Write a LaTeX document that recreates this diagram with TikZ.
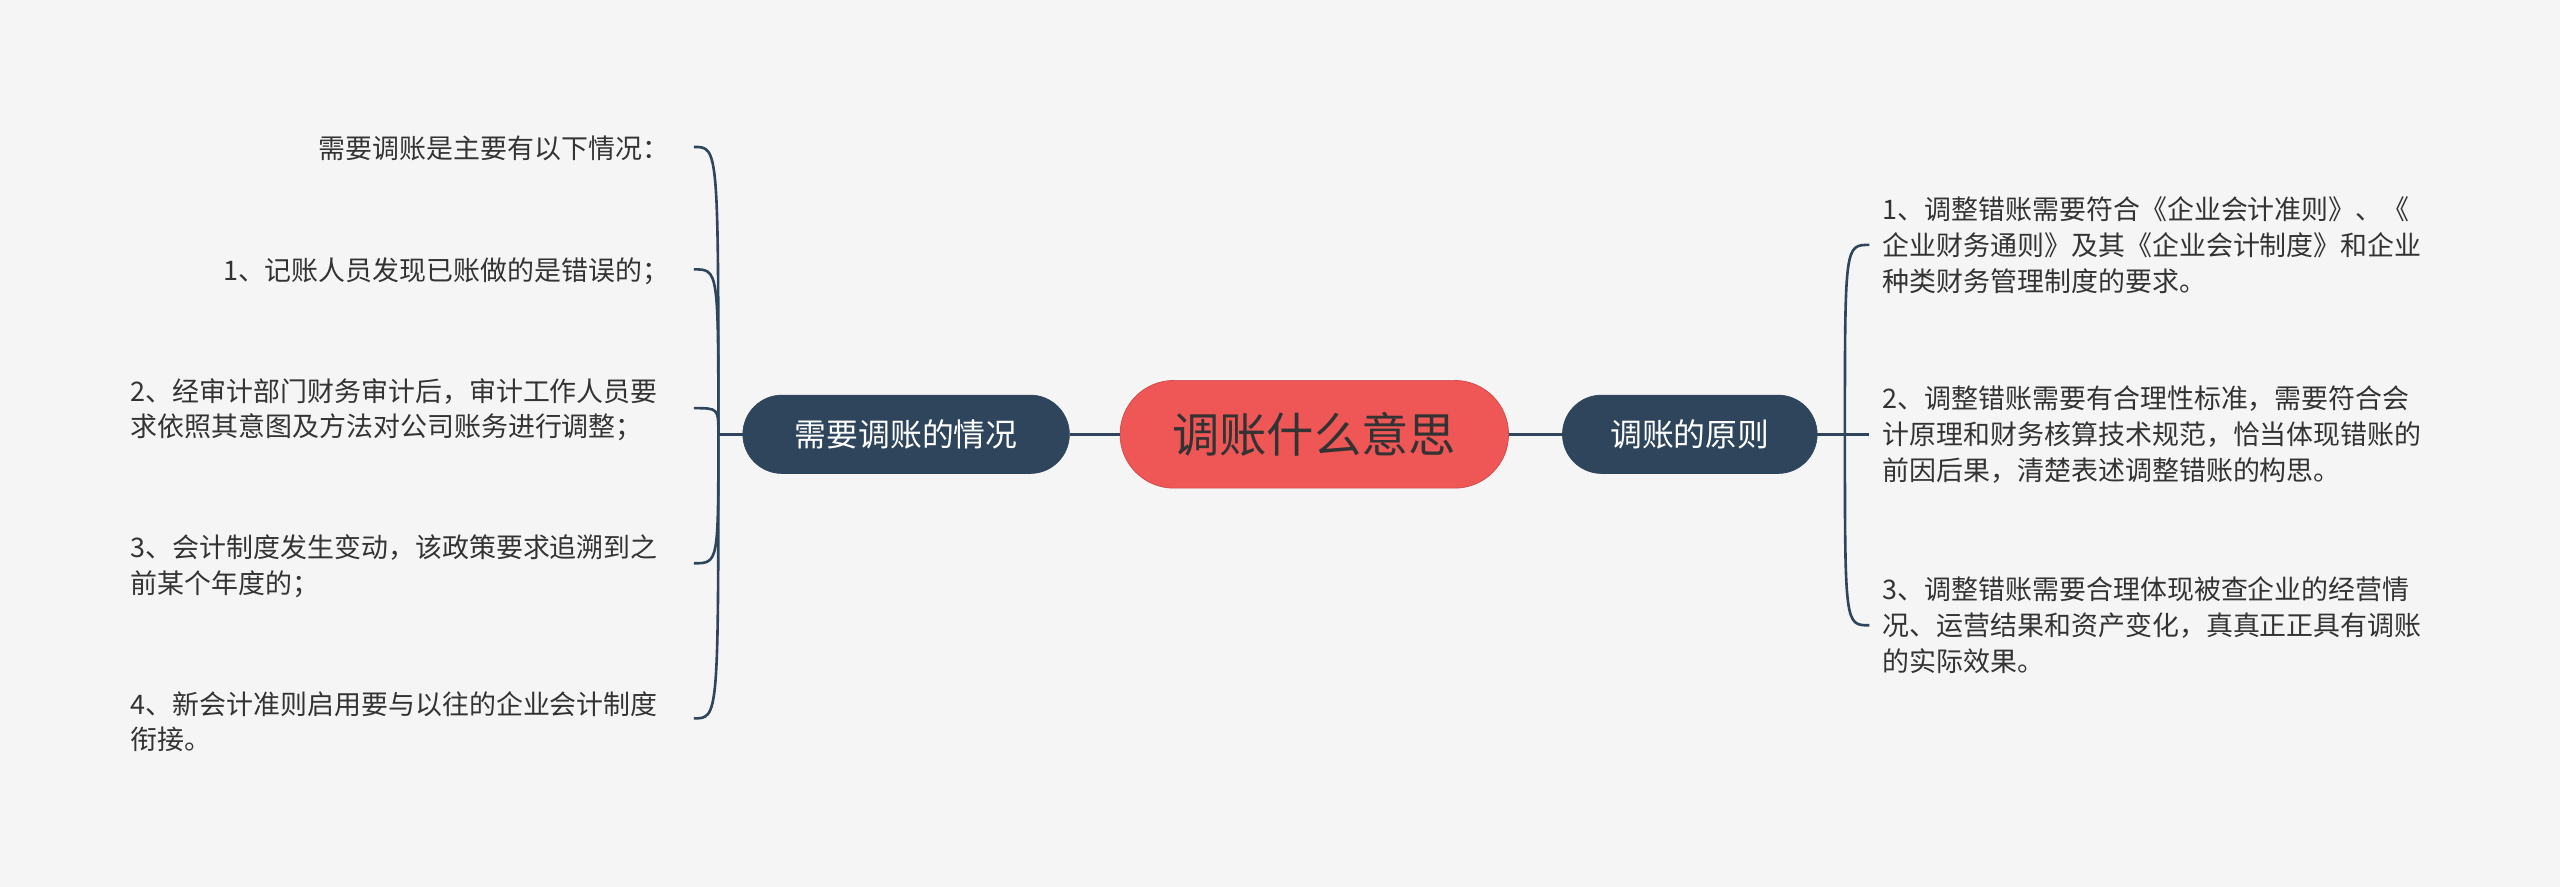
\documentclass[tikz,border=0pt]{standalone}
\usepackage{fontspec}
\setmainfont{Noto Sans CJK SC}
\definecolor{bg}{HTML}{F5F5F5}
\definecolor{navy}{HTML}{2E455C}
\definecolor{red}{HTML}{EF5656}
\definecolor{txt}{HTML}{333333}
\begin{document}
\begin{tikzpicture}[x=1pt,y=-1pt,
  branch/.style={draw=navy,fill=navy,rounded corners=24pt,minimum height=48pt,text=white,font=\fontsize{19.5}{22}\selectfont,inner xsep=12pt},
  item/.style={text=txt,font=\fontsize{16.5}{22}\selectfont,inner sep=0pt},
  conn/.style={draw=navy,line width=1.6pt}]
\fill[bg] (0,0) rectangle (1568,543);
\useasboundingbox (0,0) rectangle (1568,543);
\node[draw=red!85!black,fill=red,rounded corners=33pt,minimum width=238pt,minimum height=66pt,text=txt,font=\fontsize{29}{32}\selectfont] (c) at (805,266) {调账什么意思};
\node[branch,minimum width=200pt] (L) at (555,266) {需要调账的情况};
\node[branch,minimum width=156pt] (R) at (1035,266) {调账的原则};
\draw[conn] (c.west) -- (L.east);
\draw[conn] (c.east) -- (R.west);
\coordinate (lj) at (440,266);
\coordinate (rj) at (1130,266);
\draw[conn] (L.west) -- (lj);
\draw[conn] (R.east) -- (rj);
% left items
\node[item,anchor=east] (l0) at (410,91) {需要调账是主要有以下情况：};
\node[item,anchor=east] (l1) at (410,166) {1、记账人员发现已账做的是错误的；};
\node[item,anchor=west,align=left,text width=340pt] (l2) at (80,251) {2、经审计部门财务审计后，审计工作人员要\\求依照其意图及方法对公司账务进行调整；};
\node[item,anchor=west,align=left,text width=340pt] (l3) at (80,347) {3、会计制度发生变动，该政策要求追溯到之\\前某个年度的；};
\node[item,anchor=west,align=left,text width=340pt] (l4) at (80,442) {4、新会计准则启用要与以往的企业会计制度\\衔接。};
\foreach \n/\y in {l0/90,l1/165,l2/250,l3/345,l4/440}{
  \coordinate (e\n) at (425,\y);
  \draw[conn] (lj) .. controls (440,\y) and (440,\y) .. (e\n);
}
% right items
\node[item,anchor=west,align=left] (r1) at (1153,150) {1、调整错账需要符合《企业会计准则》、《\\企业财务通则》及其《企业会计制度》和企业\\种类财务管理制度的要求。};
\node[item,anchor=west,align=left] (r2) at (1153,266) {2、调整错账需要有合理性标准，需要符合会\\计原理和财务核算技术规范，恰当体现错账的\\前因后果，清楚表述调整错账的构思。};
\node[item,anchor=west,align=left] (r3) at (1153,383) {3、调整错账需要合理体现被查企业的经营情\\况、运营结果和资产变化，真真正正具有调账\\的实际效果。};
\foreach \n/\y in {r1/150,r2/266,r3/383}{
  \coordinate (e\n) at (1145,\y);
  \draw[conn] (rj) .. controls (1130,\y) and (1130,\y) .. (e\n);
}
\end{tikzpicture}
\end{document}
